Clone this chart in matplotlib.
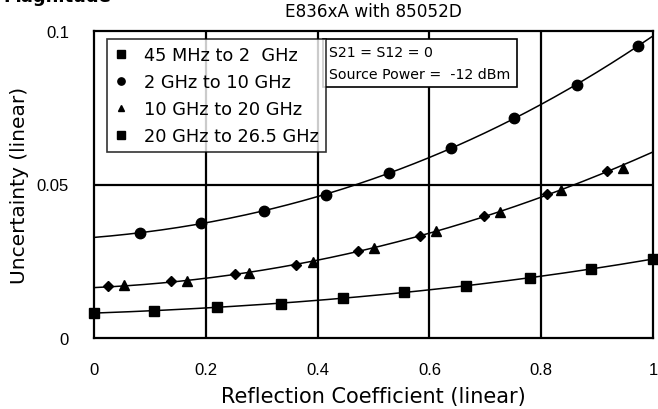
import matplotlib
matplotlib.use("Agg")
import matplotlib.pyplot as plt
import numpy as np

plt.rcParams['font.family'] = ['DejaVu Sans']

title = "E836xA with 85052D"
xlabel = "Reflection Coefficient (linear)"
ylabel = "Uncertainty (linear)"
xticks = [0, 0.2, 0.4, 0.6, 0.8, 1.0]
xticklabels = ["0", "0.2", "0.4", "0.6", "0.8", "1"]
yticks = [0, 0.05, 0.1]
yticklabels = ["0", "0.05", "0.1"]

# 45 MHz to 2 GHz (squares)
s1_x = [0.0, 0.108, 0.22, 0.334, 0.445, 0.554, 0.666, 0.78, 0.889, 1.0]
s1_y = [0.0081, 0.0089, 0.0102, 0.0112, 0.0129, 0.0149, 0.0170, 0.0196, 0.0226, 0.0257]
# 2 GHz to 10 GHz (circles)
s2_x = [0.083, 0.192, 0.305, 0.415, 0.527, 0.639, 0.751, 0.864, 0.974]
s2_y = [0.0342, 0.0374, 0.0415, 0.0467, 0.0537, 0.0619, 0.0716, 0.0824, 0.0952]
# 10 GHz to 20 GHz (triangles)
s3_x = [0.054, 0.166, 0.277, 0.391, 0.500, 0.612, 0.726, 0.835, 0.947]
s3_y = [0.0172, 0.0187, 0.0213, 0.0247, 0.0293, 0.0348, 0.0409, 0.0483, 0.0554]
# 20 GHz to 26.5 GHz (diamonds)
s4_x = [0.025, 0.138, 0.252, 0.361, 0.473, 0.584, 0.698, 0.810, 0.917]
s4_y = [0.0168, 0.0185, 0.0208, 0.0239, 0.0284, 0.0333, 0.0398, 0.0469, 0.0545]

# curve end values at x = 0 and x = 1
c1_ends = [0.0081, 0.0257]
c2_ends = [0.0328, 0.0985]
c34_ends = [0.0160, 0.0610]

labels = ["45 MHz to 2  GHz", "2 GHz to 10 GHz", "10 GHz to 20 GHz", "20 GHz to 26.5 GHz"]
note_lines = ["S21 = S12 = 0", "Source Power =  -12 dBm"]

W, H = 658, 410
L, R, T, B = 94, 653, 32, 339
fig = plt.figure(figsize=(W/100, H/100), dpi=100)
ax = fig.add_axes([L/W, 1-B/H, (R-L)/W, (B-T)/H])

def curve(xs, ys, ends, deg=3):
    x = np.concatenate([[0.0], xs, [1.0]])
    y = np.concatenate([[ends[0]], ys, [ends[1]]])
    p = np.polyfit(x, y, deg)
    xx = np.linspace(0, 1, 200)
    return xx, np.polyval(p, xx)

xx, yy = curve(s1_x, s1_y, c1_ends)
ax.plot(xx, yy, color='black', lw=1.1, zorder=3)
xx, yy = curve(s2_x, s2_y, c2_ends)
ax.plot(xx, yy, color='black', lw=1.1, zorder=3)
xx, yy = curve(s3_x + s4_x, s3_y + s4_y, c34_ends)
ax.plot(xx, yy, color='black', lw=1.1, zorder=3)

h1, = ax.plot(s1_x, s1_y, 's', color='black', ms=7.5, ls='none', zorder=4, clip_on=False)
h2, = ax.plot(s2_x, s2_y, 'o', color='black', ms=7.5, ls='none', zorder=4, clip_on=False)
h3, = ax.plot(s3_x, s3_y, '^', color='black', ms=6.5, ls='none', zorder=4, clip_on=False)
h4, = ax.plot(s4_x, s4_y, 'D', color='black', ms=5.5, ls='none', zorder=4, clip_on=False)

ax.set_xlim(0, 1)
ax.set_ylim(0, 0.1)
ax.tick_params(length=0)
ax.tick_params(axis='x', pad=17)
ax.tick_params(axis='y', pad=18)
ax.set_xticks(xticks)
ax.set_xticklabels(xticklabels, fontfamily='Liberation Sans', fontsize=12)
ax.set_yticks(yticks)
ax.set_yticklabels(yticklabels, fontfamily='Liberation Sans', fontsize=12)
for x in xticks[1:-1]:
    ax.axvline(x, color='black', lw=1.6, zorder=1)
ax.axhline(0.05, color='black', lw=1.6, zorder=1)
for s in ax.spines.values():
    s.set_linewidth(1.6)

ax.set_title(title, fontsize=12.2, pad=11)
ax.set_xlabel(xlabel, fontsize=15)
ax.xaxis.set_label_coords(0.5, -(397 - B) / (B - T), transform=ax.transAxes)
ax.xaxis.label.set_va('center')
ax.set_ylabel(ylabel, fontsize=14.5)
ax.yaxis.set_label_coords(-(L - 20) / (R - L), 0.5)
ax.yaxis.label.set_va('center')

leg = ax.legend([h1, h2, h4, h1], labels, loc='upper left',
                bbox_to_anchor=((107 - L) / (R - L), 1 - (40 - T) / (B - T)),
                frameon=True, fancybox=False, edgecolor='black', fontsize=12.8,
                handlelength=0.8, handletextpad=0.9, labelspacing=0.5, borderpad=0.4,
                borderaxespad=0, markerscale=0.7)
leg.legend_handles[2].set_marker('^')
leg.get_frame().set_linewidth(1.2)
leg.set_zorder(6)

ax.text((329 - L) / (R - L), 1 - (46 - T) / (B - T), "\n".join(note_lines),
        transform=ax.transAxes, fontsize=10.2,
        va='top', ha='left', zorder=6, linespacing=1.7,
        bbox=dict(boxstyle='square,pad=0.45', fc='white', ec='black', lw=1.2))

fig.text(0.005, 1 - 2.5/H, "Magnitude", fontsize=13, fontweight='bold', va='baseline', ha='left')

fig.savefig("out.png", dpi=100)
